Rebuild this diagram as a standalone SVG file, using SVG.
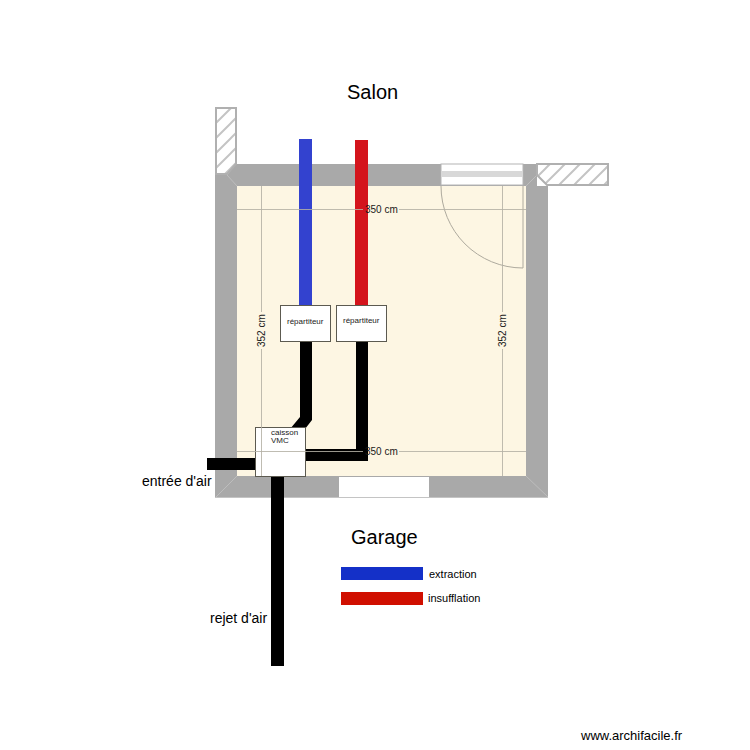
<svg xmlns="http://www.w3.org/2000/svg" width="750" height="750" viewBox="0 0 750 750">
<defs>
<pattern id="hatch" patternUnits="userSpaceOnUse" width="15" height="15" patternTransform="translate(216 108)">
<path d="M-3 3L3 -3M-3 18L18 -3M12 18L18 12" stroke="#c4c4c4" stroke-width="2" fill="none"/>
</pattern>
</defs>
<style>
text{font-family:"Liberation Sans",Arial,sans-serif;fill:#000}
.dim{stroke:#b4b0a4;stroke-width:1;fill:none;opacity:.85}
.dimt{font-size:10px;fill:#1a1a1a}
.big{font-size:20px}
.mid{font-size:14px}
.small{font-size:8px;fill:#222}
.leg{font-size:11px}
.hatch{fill:url(#hatch);stroke:#b0b0b0;stroke-width:2}
.duct{fill:#000}
.box{fill:#fff;stroke:#5c5a50;stroke-width:1}
</style>
<g id="room">
<path fill="#a9a9a9" d="M236 164H537V186H548V497H215V175H227L236 164Z"/>
<rect x="237" y="186" width="289" height="290" fill="#fdf6e3"/>
<path d="M227 175L237 186M526 186L537 175M526 476L548 497M237 476L216 497" stroke="#bdbdbd" stroke-width="1" fill="none"/>
<path d="M215 497.500H548" stroke="#c4c4c4" stroke-width="1"/>
</g>
<g id="hatch-left"><path class="hatch" d="M216 108H236V164L227 174H216Z"/></g>
<g id="hatch-right"><path class="hatch" d="M537 164H608V185H547L537 175Z"/></g>
<g id="window-top">
<rect x="441" y="164" width="82" height="21" fill="#fff" stroke="#b4b4b4" stroke-width="1"/>
<rect x="441" y="171" width="82" height="6" fill="#d8d8d8"/>
</g>
<g id="window-bottom"><rect x="339" y="477" width="90" height="20" fill="#fff"/></g>
<g id="door"><path d="M441 186A82 82 0 0 0 523 268V186" fill="none" stroke="#aeaa9e" stroke-width="1"/></g>
<g id="connectors">
<rect x="299" y="139" width="13" height="166" fill="#3342cf"/>
<rect x="355" y="140" width="13" height="165" fill="#d4141c"/>
<path class="duct" d="M300 342H312V420L305 429H290L300 417Z"/>
<path class="duct" d="M356 342H368V461H305V449H356Z"/>
<rect class="duct" x="207" y="458" width="49" height="12"/>
<rect class="duct" x="271" y="477" width="13" height="189"/>
</g>
<g id="caisson">
<rect class="box" x="255.500" y="427.500" width="50" height="49"/>
<text class="small" x="271" y="435">caisson</text>
<text class="small" x="271" y="443">VMC</text>
</g>
<g id="repartiteur-1">
<rect class="box" x="280.500" y="305.500" width="50" height="36"/>
<text class="small" x="287" y="324">répartiteur</text>
</g>
<g id="repartiteur-2">
<rect class="box" x="336.500" y="305.500" width="50" height="36"/>
<text class="small" x="343" y="323">répartiteur</text>
</g>
<g id="dimensions">
<path class="dim" d="M237 209.500H363M399 209.500H526M237 451.500H363M399 451.500H526M261.500 186V312M261.500 349V476M502.500 186V312M502.500 349V476"/>
<text class="dimt" x="365" y="213">350 cm</text>
<text class="dimt" x="365" y="455">350 cm</text>
<text class="dimt" transform="translate(265 347) rotate(-90)">352 cm</text>
<text class="dimt" transform="translate(505.500 347) rotate(-90)">352 cm</text>
</g>
<g id="labels">
<text class="big" x="347" y="99">Salon</text>
<text class="big" x="351" y="544">Garage</text>
<text class="mid" x="142" y="486">entrée d'air</text>
<text class="mid" x="210" y="623">rejet d'air</text>
<text x="581" y="740" font-size="13">www.archifacile.fr</text>
</g>
<g id="legend">
<rect x="341" y="567" width="82" height="13" fill="#1430c8"/>
<rect x="341" y="592" width="82" height="13" fill="#d00f00"/>
<text class="leg" x="429" y="578">extraction</text>
<text class="leg" x="428" y="602">insufflation</text>
</g>
</svg>
